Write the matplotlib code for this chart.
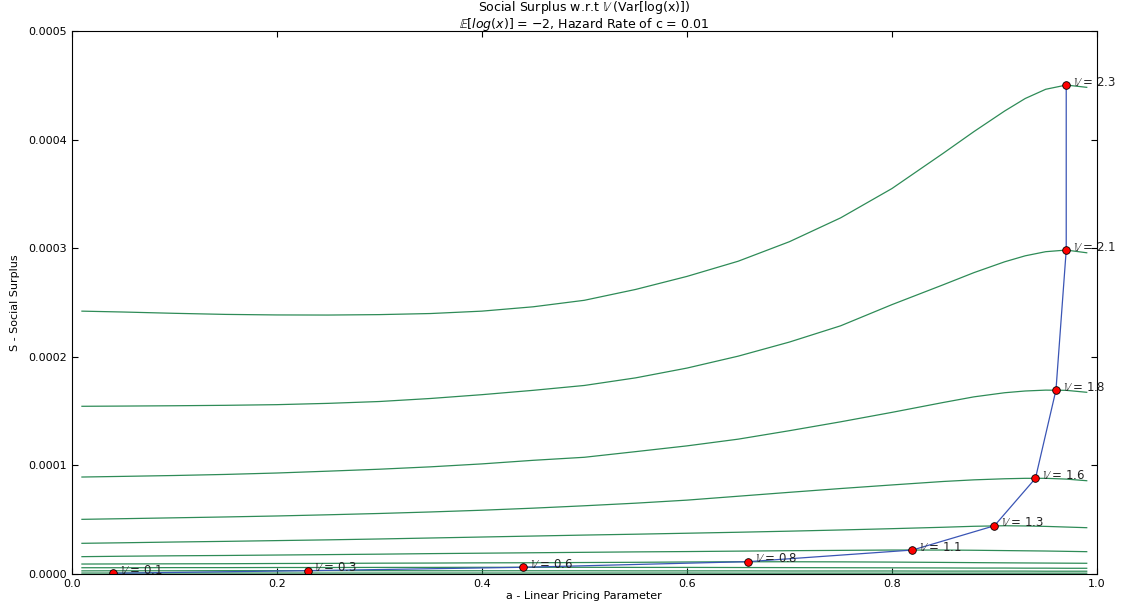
import numpy as np
import matplotlib
matplotlib.use("Agg")
import matplotlib.pyplot as plt
from matplotlib.ticker import FormatStrFormatter

# pricing parameter grid
a_grid = [0.01, 0.05, 0.1, 0.15, 0.2, 0.25, 0.3, 0.35, 0.4, 0.45, 0.5, 0.55,
          0.6, 0.65, 0.7, 0.75, 0.8, 0.85, 0.88, 0.91, 0.93, 0.95, 0.97, 0.99]

# social surplus curves (units of 1e-4) for each V
S_V01 = [0.006, 0.006, 0.006, 0.006, 0.006, 0.006, 0.006, 0.006, 0.006, 0.006, 0.006, 0.006,
         0.006, 0.005, 0.005, 0.005, 0.005, 0.005, 0.005, 0.005, 0.005, 0.005, 0.005, 0.005]
S_V03 = [0.026, 0.027, 0.027, 0.028, 0.028, 0.028, 0.028, 0.027, 0.027, 0.027, 0.027, 0.026,
         0.026, 0.026, 0.025, 0.025, 0.025, 0.024, 0.024, 0.024, 0.024, 0.023, 0.023, 0.023]
S_V06 = [0.055, 0.055, 0.056, 0.056, 0.057, 0.057, 0.058, 0.058, 0.059, 0.059, 0.059, 0.058,
         0.058, 0.057, 0.056, 0.055, 0.054, 0.053, 0.052, 0.052, 0.051, 0.051, 0.050, 0.050]
S_V08 = [0.089, 0.090, 0.091, 0.092, 0.094, 0.095, 0.097, 0.098, 0.100, 0.101, 0.103, 0.105,
         0.108, 0.110, 0.110, 0.109, 0.107, 0.104, 0.102, 0.100, 0.099, 0.098, 0.097, 0.096]
S_V11 = [0.157, 0.161, 0.165, 0.168, 0.172, 0.176, 0.180, 0.185, 0.189, 0.193, 0.197, 0.201,
         0.204, 0.208, 0.212, 0.215, 0.218, 0.218, 0.216, 0.213, 0.211, 0.209, 0.206, 0.203]
S_V13 = [0.280, 0.285, 0.292, 0.298, 0.305, 0.312, 0.320, 0.329, 0.338, 0.347, 0.356, 0.364,
         0.373, 0.382, 0.392, 0.403, 0.415, 0.428, 0.437, 0.442, 0.440, 0.436, 0.430, 0.424]
S_V16 = [0.501, 0.507, 0.515, 0.523, 0.532, 0.543, 0.555, 0.569, 0.585, 0.604, 0.626, 0.650,
         0.678, 0.714, 0.750, 0.785, 0.818, 0.850, 0.865, 0.875, 0.879, 0.879, 0.872, 0.857]
S_V18 = [0.891, 0.897, 0.905, 0.915, 0.928, 0.945, 0.963, 0.985, 1.012, 1.045, 1.073, 1.125,
         1.178, 1.240, 1.318, 1.400, 1.487, 1.578, 1.630, 1.668, 1.684, 1.692, 1.690, 1.672]
S_V21 = [1.543, 1.545, 1.548, 1.552, 1.558, 1.570, 1.587, 1.615, 1.650, 1.690, 1.735, 1.805,
         1.895, 2.005, 2.135, 2.285, 2.480, 2.663, 2.775, 2.875, 2.930, 2.968, 2.983, 2.958]
S_V23 = [2.420, 2.412, 2.400, 2.390, 2.385, 2.384, 2.388, 2.398, 2.420, 2.460, 2.520, 2.620,
         2.740, 2.880, 3.060, 3.280, 3.550, 3.875, 4.075, 4.265, 4.380, 4.465, 4.504, 4.483]

V_labels = ["0.1", "0.3", "0.6", "0.8", "1.1", "1.3", "1.6", "1.8", "2.1", "2.3"]
curves = [S_V01, S_V03, S_V06, S_V08, S_V11, S_V13, S_V16, S_V18, S_V21, S_V23]

# optimum per V
a_opt = [0.04, 0.23, 0.44, 0.66, 0.82, 0.90, 0.94, 0.96, 0.97, 0.97]
S_opt = [0.004, 0.028, 0.059, 0.111, 0.218, 0.442, 0.879, 1.693, 2.983, 4.504]

SCALE = 1e-4

fig = plt.figure(figsize=(11.22, 6.03), dpi=100)
ax = fig.add_axes([0.0639, 0.0486, 0.9138, 0.8996])

for S in curves:
    ax.plot(a_grid, np.array(S) * SCALE, color="#2e8b57", lw=0.9)

ax.plot(a_opt, np.array(S_opt) * SCALE, color="#3a55b5", lw=0.9)
ax.plot(a_opt, np.array(S_opt) * SCALE, linestyle="none", marker="o",
        markersize=5.5, markerfacecolor="red", markeredgecolor="black", markeredgewidth=0.6)

for a, s, lab in zip(a_opt, S_opt, V_labels):
    ax.annotate(r"$\mathbb{V}$ = " + lab, (a, s * SCALE), xytext=(5, 2),
                textcoords="offset points", fontsize=8.5, va="center", ha="left",
                color="#222222", annotation_clip=False)

ax.set_xlim(0, 1.0)
ax.set_ylim(0, 0.0005)
ax.set_xticks([0.0, 0.2, 0.4, 0.6, 0.8, 1.0])
ax.set_yticks([0.0, 0.0001, 0.0002, 0.0003, 0.0004, 0.0005])
ax.yaxis.set_major_formatter(FormatStrFormatter("%.4f"))
ax.xaxis.set_major_formatter(FormatStrFormatter("%.1f"))
ax.tick_params(direction="in", top=True, right=True, labelsize=8, length=4, width=0.8)

ax.set_xlabel("a - Linear Pricing Parameter", fontsize=8, labelpad=2)
ax.set_ylabel("S - Social Surplus", fontsize=8, labelpad=6)
ax.set_title("Social Surplus w.r.t $\\mathbb{V}$ (Var[log(x)])\n"
             "$\\mathbb{E}[log(x)]$ = $-2$, Hazard Rate of c = 0.01",
             fontsize=9, linespacing=1.0, pad=2)

fig.savefig("out.png", dpi=100)
